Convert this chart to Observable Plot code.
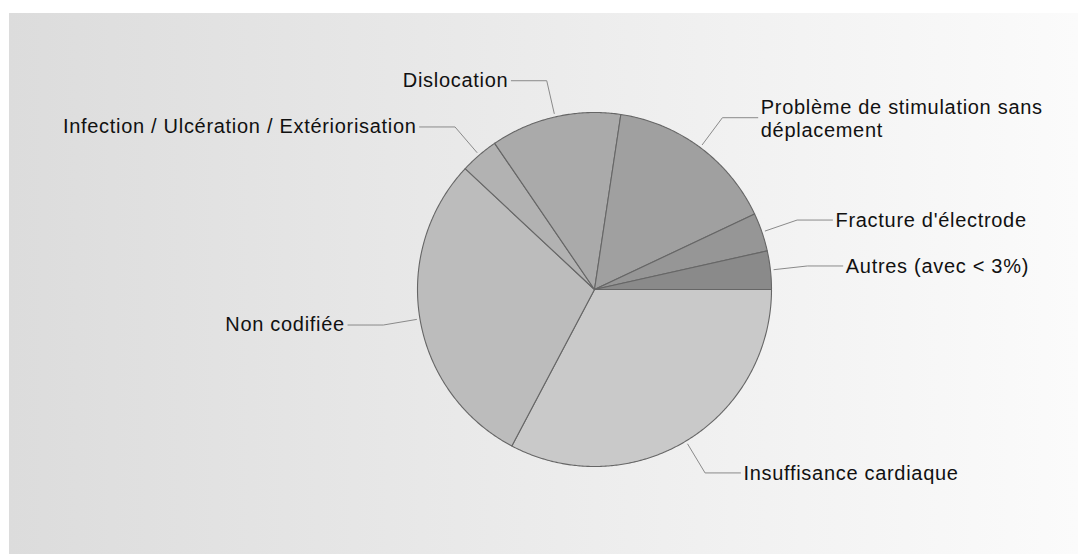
<!DOCTYPE html>
<html><head><meta charset="utf-8">
<script src="https://cdn.jsdelivr.net/npm/d3@7"></script>
<script src="https://cdn.jsdelivr.net/npm/@observablehq/plot@0.6"></script>
<style>html,body{margin:0;padding:0;background:#fff;}</style>
</head><body><div id="chart"></div>
<script>
const categories = ["Insuffisance cardiaque", "Non codifiée", "Infection / Ulcération / Extériorisation", "Dislocation", "Problème de stimulation sans déplacement", "Fracture d'électrode", "Autres (avec < 3%)"];
const values = [32.7, 29.2, 3.5, 11.9, 15.6, 3.5, 3.5];
const sliceColors = ["#c9c9c9", "#bcbcbc", "#b2b2b2", "#aaaaaa", "#a0a0a0", "#969696", "#8a8a8a"];

const W = 1078, H = 554, CX = 594, CY = 289, R = 177;
const data = categories.map((name, i) => ({name, value: values[i]}));
const arcs = d3.pie().value(d => d.value).sort(null)
  .startAngle(Math.PI / 2).endAngle(Math.PI / 2 + 2 * Math.PI)(data);

const polar = (a, r) => [Math.sin(a) * r, Math.cos(a) * r];
const slicePts = [];
arcs.forEach(a => {
  const name = a.data.name;
  slicePts.push({name, x: 0, y: 0});
  const n = Math.max(2, Math.ceil((a.endAngle - a.startAngle) / (Math.PI / 360)));
  for (let k = 0; k <= n; k++) {
    const t = a.startAngle + (a.endAngle - a.startAngle) * k / n;
    const [x, y] = polar(t, 1);
    slicePts.push({name, x, y});
  }
  slicePts.push({name, x: 0, y: 0});
});

const leaders = [], labels = [];
arcs.forEach(a => {
  const name = a.data.name;
  const mid = (a.startAngle + a.endAngle) / 2;
  const [x0, y0] = polar(mid, 1.02);
  const [x1, y1] = polar(mid, 1.21);
  const right = Math.sin(mid) > 0;
  const x2 = x1 + (right ? 0.2 : -0.2);
  leaders.push({name, x: x0, y: y0}, {name, x: x1, y: y1}, {name, x: x2, y: y1});
  labels.push({name, x: x2, y: y1, right});
});

const plot = Plot.plot({
  width: W, height: H, margin: 0,
  x: {domain: [-CX / R, (W - CX) / R], axis: null},
  y: {domain: [-(H - CY) / R, CY / R], axis: null},
  color: {domain: categories, range: sliceColors},
  style: "background: linear-gradient(to right, #dcdcdc, #fbfbfb) 9px 13px / 1069px 541px no-repeat, #ffffff; font-family: 'Liberation Sans', Arial, sans-serif; letter-spacing: 0.7px;",
  marks: [
    Plot.line(slicePts, {x: "x", y: "y", z: "name", fill: "name", stroke: "#666666", strokeWidth: 1.1, strokeLinejoin: "round"}),
    Plot.line(leaders, {x: "x", y: "y", z: "name", stroke: "#8a8a8a", strokeWidth: 1}),
    Plot.text(labels.filter(d => !d.right), {x: "x", y: "y", text: "name", textAnchor: "end", dx: -3, fontSize: 20, fill: "#111111"}),
    Plot.text(labels.filter(d => d.right), {x: "x", y: "y", text: "name", textAnchor: "start", dx: 3, fontSize: 20, fill: "#111111", lineWidth: 15, lineHeight: 1.15})
  ]
});
document.getElementById("chart").appendChild(plot);
</script>
</body></html>
